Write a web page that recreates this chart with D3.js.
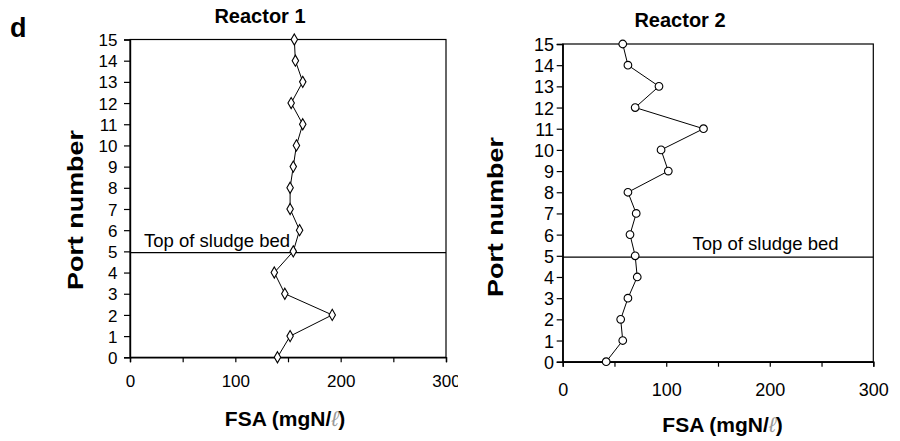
<!DOCTYPE html>
<html>
<head>
<meta charset="utf-8">
<script src="https://cdn.jsdelivr.net/npm/d3@7"></script>
<style>
  body { margin: 0; background: #fff; }
  svg { font-family: "Liberation Sans", Arial, sans-serif; }
</style>
</head>
<body>
<svg id="chart" width="900" height="441"></svg>
<script>
// port numbers (y) and FSA values (x)
var ports = [0, 1, 2, 3, 4, 5, 6, 7, 8, 9, 10, 11, 12, 13, 14, 15];
var reactor1 = [140, 152, 192, 147, 137, 155, 161, 152, 152, 155, 158, 164, 153, 164, 157, 156];
var reactor2 = [42, 58, 56, 63, 72, 70, 65, 71, 63, 102, 95, 136, 70, 93, 63, 58];
var xTicks = [0, 50, 100, 150, 200, 250, 300];
var yTicks = ports;
var sludgeTop = 4.94;

var svg = d3.select('#chart');

var panels = [
  { title: 'Reactor 1', values: reactor1, marker: 'diamond',
    x0: 130, x1: 446, y0: 357.3, y1: 39.5,
    titleX: 260, titleY: 23, xLabX: 285, xLabY: 426, yLabX: 82.5, yLabY: 210,
    yTickEnd: 117.5, xTickBase: 387.5, tickFont: 17,
    noteX: 144, noteY: 246.5 },
  { title: 'Reactor 2', values: reactor2, marker: 'circle',
    x0: 562.7, x1: 873.3, y0: 361.7, y1: 44,
    titleX: 680, titleY: 26.5, xLabX: 722.5, xLabY: 431.5, yLabX: 503, yLabY: 217,
    yTickEnd: 554, xTickBase: 396.5, tickFont: 18,
    noteX: 692.5, noteY: 250 }
];

// panel letter
svg.append('text')
  .attr('x', 10).attr('y', 36.5)
  .attr('font-size', 27).attr('font-weight', 'bold')
  .text('d');

panels.forEach(function(p, i) {
  if (i === 1) {
    // right panel background covers the end of the left "300"
    svg.append('rect').attr('x', 458).attr('y', 0)
      .attr('width', 442).attr('height', 441).attr('fill', '#fff');
  }

  var x = d3.scaleLinear().domain([0, 300]).range([p.x0, p.x1]);
  var y = d3.scaleLinear().domain([0, 15]).range([p.y0, p.y1]);
  var g = svg.append('g');

  // frame
  g.append('rect')
    .attr('x', x(0)).attr('y', y(15))
    .attr('width', x(300) - x(0)).attr('height', y(0) - y(15))
    .attr('fill', 'none').attr('stroke', '#000').attr('stroke-width', 1.2);

  // y axis
  var ya = g.append('g')
    .attr('transform', 'translate(' + x(0) + ',0)')
    .call(d3.axisLeft(y).tickValues(yTicks).tickSize(6).tickPadding(x(0) - p.yTickEnd - 6));
  // x axis
  var xa = g.append('g')
    .attr('transform', 'translate(0,' + y(0) + ')')
    .call(d3.axisBottom(x).tickValues(xTicks).tickSize(5)
      .tickFormat(function(d) { return d % 100 === 0 ? d : ''; }));

  [ya, xa].forEach(function(a) {
    a.select('.domain').attr('stroke-width', 1.4);
    a.selectAll('.tick line').attr('stroke-width', 1.2);
    a.selectAll('.tick text')
      .attr('font-family', '"Liberation Sans", Arial, sans-serif')
      .attr('font-size', p.tickFont).attr('fill', '#000');
  });
  ya.selectAll('.tick text').attr('dy', '0.36em');
  xa.selectAll('.tick text')
    .attr('dy', null)
    .attr('y', p.xTickBase - y(0));

  // sludge bed line
  g.append('line')
    .attr('x1', x(0)).attr('x2', x(300))
    .attr('y1', y(sludgeTop)).attr('y2', y(sludgeTop))
    .attr('stroke', '#000').attr('stroke-width', 1.2);
  g.append('text')
    .attr('x', p.noteX).attr('y', p.noteY)
    .attr('font-size', 18.5)
    .text('Top of sludge bed');

  // profile line
  var line = d3.line()
    .x(function(d) { return x(d); })
    .y(function(d, j) { return y(ports[j]); });
  g.append('path')
    .datum(p.values)
    .attr('d', line)
    .attr('fill', 'none').attr('stroke', '#000').attr('stroke-width', 1);

  // markers
  var sym = p.marker === 'diamond' ? d3.symbolDiamond : d3.symbolCircle;
  var size = p.marker === 'diamond' ? 36 : 46;
  g.selectAll('path.pt')
    .data(p.values)
    .enter()
    .append('path')
    .attr('class', 'pt')
    .attr('d', d3.symbol().type(sym).size(size))
    .attr('transform', function(d, j) { return 'translate(' + x(d) + ',' + y(ports[j]) + ')'; })
    .attr('fill', '#fff').attr('stroke', '#000').attr('stroke-width', 1.1);

  // titles and labels
  g.append('text')
    .attr('x', p.titleX).attr('y', p.titleY)
    .attr('text-anchor', 'middle')
    .attr('font-size', 20).attr('font-weight', 'bold')
    .text(p.title);

  var xl = g.append('text')
    .attr('x', p.xLabX).attr('y', p.xLabY)
    .attr('text-anchor', 'middle')
    .attr('font-size', 21).attr('font-weight', 'bold');
  xl.append('tspan').text('FSA (mgN/');
  xl.append('tspan').attr('font-weight', 'normal').attr('font-style', 'italic')
    .attr('fill', '#999').text('\u2113');
  xl.append('tspan').text(')');

  g.append('text')
    .attr('transform', 'translate(' + p.yLabX + ',' + p.yLabY + ') rotate(-90)')
    .attr('text-anchor', 'middle')
    .attr('font-size', 22).attr('font-weight', 'bold')
    .attr('textLength', 160).attr('lengthAdjust', 'spacingAndGlyphs')
    .text('Port number');
});
</script>
</body>
</html>
